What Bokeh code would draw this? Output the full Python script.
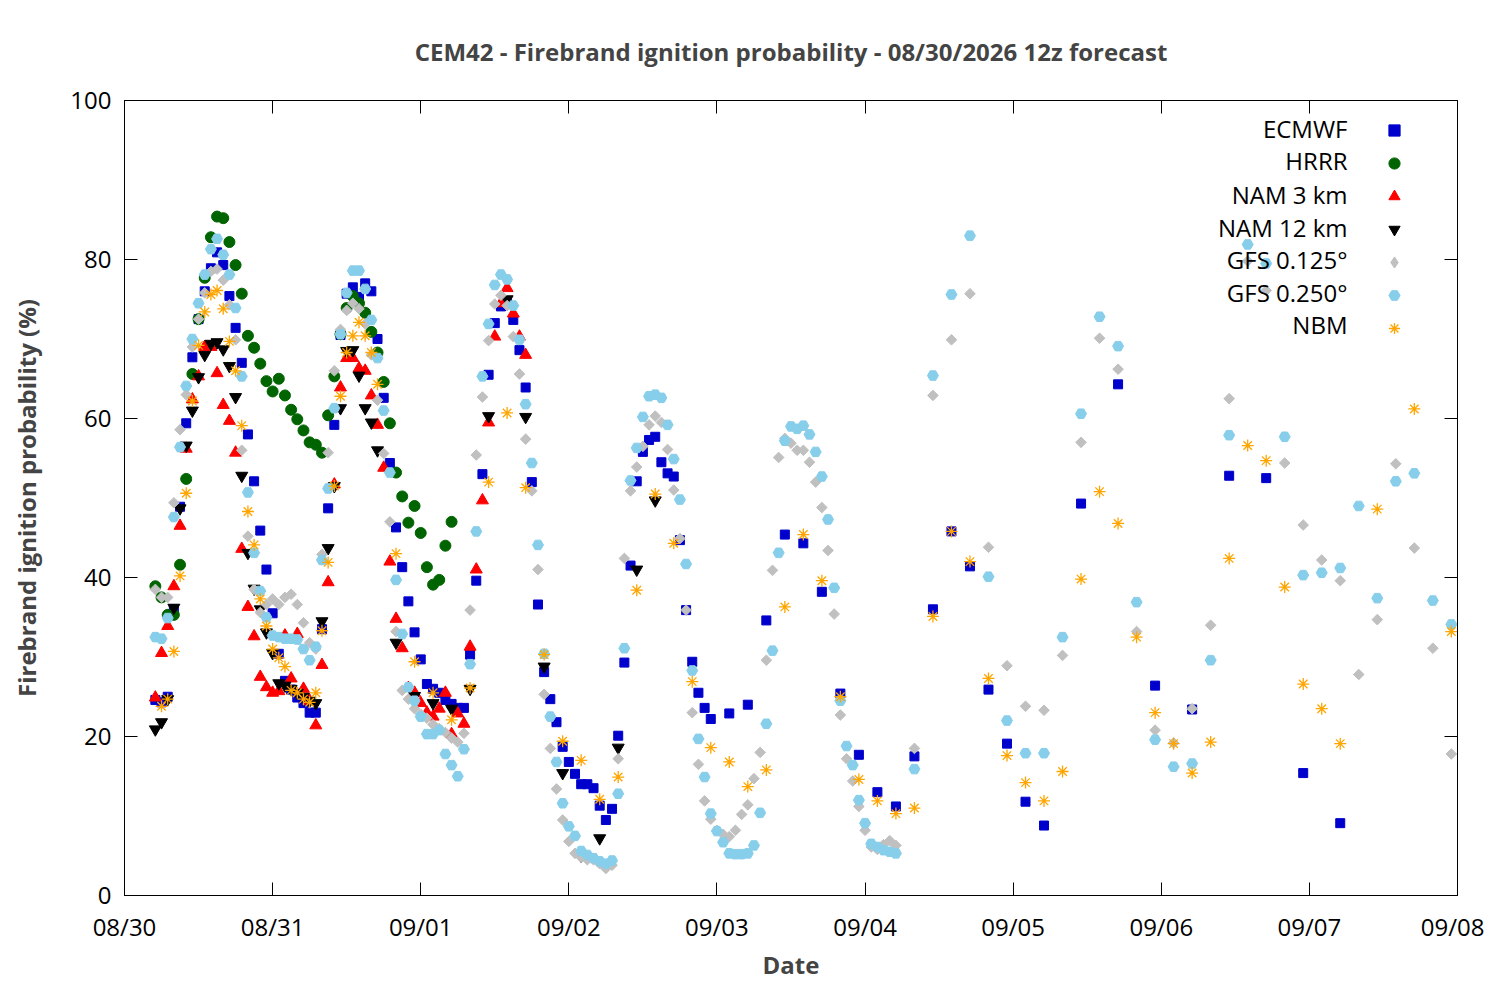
import math
from datetime import datetime, timezone
from bokeh.plotting import figure
from bokeh.models import (ColumnDataSource, Range1d, FixedTicker, DaysTicker,
                          DatetimeTickFormatter, LinearAxis, DatetimeAxis,
                          Legend, LegendItem, Label)
from bokeh.embed import file_html
from bokeh.resources import INLINE

# ---------------- data (hours after 08/30 00:00, probability %) ----------------
TITLE = "CEM42 - Firebrand ignition probability - 08/30/2026 12z forecast"
X_LABEL = "Date"
Y_LABEL = "Firebrand ignition probability (%)"
Y_TICKS = [0, 20, 40, 60, 80, 100]

ecmwf_hours = list(range(5, 96)) + list(range(98, 150, 3)) + list(range(155, 198, 6))
ecmwf_vals = [24.6, 24.3, 25.0, 36.0, 48.9, 59.4, 67.7, 72.5, 76.0, 78.9, 80.9, 79.3, 75.4, 71.4, 67.0,
              58.0, 52.1, 45.9, 41.0, 35.5, 30.4, 27.0, 25.9, 24.9, 24.2, 23.0, 23.0, 33.5, 48.7, 59.2,
              70.5, 75.7, 76.5, 75.3, 77.0, 76.0, 70.0, 62.6, 54.4, 46.3, 41.3, 37.0, 33.1, 29.7, 26.6,
              26.0, 25.5, 24.6, 24.1, 23.6, 23.6, 30.3, 39.6, 53.0, 65.5, 72.0, 74.1, 74.4, 72.4, 68.6,
              63.9, 52.0, 36.6, 28.1, 24.7, 21.8, 18.7, 16.8, 15.3, 14.0, 14.0, 13.5, 11.3, 9.5, 10.9,
              20.1, 29.3, 41.5, 52.1, 55.8, 57.3, 57.7, 54.5, 53.1, 52.7, 44.7, 35.9, 29.4, 25.5, 23.6,
              22.2,
              22.9, 24.0, 34.6, 45.4, 44.3, 38.2, 25.4, 17.7, 13.0, 11.2, 17.5, 36.0, 45.8, 41.4, 25.9,
              19.1, 11.8, 8.8,
              49.3, 64.3, 26.4, 23.4, 52.8, 52.5, 15.4, 9.1]

hrrr_hours = list(range(5, 54))
hrrr_vals = [38.9, 37.5, 35.3, 35.3, 41.6, 52.4, 65.6, 72.5, 77.7, 82.8, 85.4, 85.2, 82.2, 79.3, 75.7,
             70.4, 68.9, 66.9, 64.7, 63.4, 65.0, 62.9, 61.1, 59.9, 58.5, 57.0, 56.7, 55.7, 60.4, 65.3,
             70.6, 73.9, 75.4, 74.5, 73.3, 70.9, 68.3, 64.6, 59.4, 53.2, 50.2, 46.9, 49.0, 45.6, 41.3,
             39.1, 39.7, 44.0, 47.0]

nam3_hours = list(range(5, 66))
nam3_vals = [24.9, 30.5, 33.9, 38.9, 46.5, 56.2, 62.4, 65.3, 69.0, 69.0, 65.7, 61.7, 59.7, 55.7, 43.6,
             36.3, 32.6, 27.5, 26.2, 25.5, 25.7, 32.7, 27.3, 32.9, 26.0, 24.5, 21.4, 29.0, 39.4, 51.7,
             63.9, 67.6, 67.6, 66.3, 66.0, 62.9, 59.2, 53.8, 42.0, 34.8, 31.1, 26.1, 25.5, 24.2, 23.0,
             22.5, 23.5, 25.5, 20.3, 22.9, 21.6, 31.3, 41.0, 49.7, 59.5, 70.3, 74.5, 76.4, 73.2, 70.3,
             68.0]

nam12_hours = list(range(5, 42)) + list(range(44, 87, 3))
nam12_vals = [20.9, 21.8, 24.7, 36.2, 48.7, 56.6, 61.0, 65.2, 68.0, 69.4, 69.6, 68.7, 66.6, 62.7, 52.8,
              43.1, 38.6, 36.0, 33.1, 30.5, 26.7, 26.4, 26.0, 25.5, 25.0, 24.5, 24.2, 34.5, 43.7, 51.5,
              61.3, 68.5, 68.6, 65.4, 61.3, 59.5, 56.0,
              31.8, 25.1, 24.2, 23.5, 26.0, 60.3, 75.0, 60.2, 28.8, 15.4, 5.0, 7.2, 18.6, 41.0, 49.7]

gfs125_hours = list(range(5, 126)) + list(range(128, 216, 3))
gfs125_vals = [38.5, 37.5, 37.5, 49.4, 58.6, 63.0, 69.0, 72.5, 75.8, 78.5, 78.8, 77.4, 74.3, 69.9, 56.0,
               45.2, 38.5, 35.6, 36.6, 37.3, 36.6, 37.5, 37.9, 36.6, 34.3, 31.8, 31.0, 42.9, 55.7, 66.0,
               71.2, 73.6, 74.5, 73.8, 71.9, 68.0, 62.3, 55.6, 47.0, 33.2, 25.8, 24.7, 23.5, 22.8, 22.3,
               21.5, 21.0, 20.5, 19.8, 19.3, 20.4, 35.9, 55.4, 62.7, 69.8, 74.4, 75.5, 74.2, 70.3, 65.6,
               57.4, 50.9, 41.0, 25.3, 18.5, 13.4, 9.5, 6.8, 5.3, 4.8, 4.5, 4.5, 4.0, 3.4, 3.8,
               17.2, 42.4, 50.9, 53.9, 56.5, 59.2, 60.3, 59.5, 56.1, 51.0, 44.9, 35.9, 23.0, 16.5, 11.9,
               9.6, 8.2, 7.7, 7.4, 8.2, 10.2, 11.4, 14.7, 18.0, 29.6, 40.9, 55.1, 57.5, 56.9, 56.0,
               56.0, 54.5, 52.0, 48.8, 43.4, 35.4, 22.7, 17.2, 14.4, 11.2, 8.2, 6.1, 5.8, 6.4, 6.9,
               6.3,
               18.5, 62.9, 69.9, 75.7, 43.8, 28.9, 23.8, 23.3, 30.2, 57.0, 70.1, 66.2, 33.2, 20.8, 19.2,
               23.5, 34.0, 62.5, 79.8, 76.1, 54.4, 46.6, 42.2, 39.6, 27.8, 34.7, 54.3, 43.7, 31.1, 17.8]

gfs250_hours = list(range(5, 126)) + list(range(128, 216, 3))
gfs250_vals = [32.5, 32.3, 34.9, 47.6, 56.4, 64.1, 70.0, 74.5, 78.1, 81.3, 82.6, 80.6, 78.1, 73.9, 65.3,
               50.7, 43.1, 38.3, 35.0, 32.7, 32.5, 32.3, 32.3, 32.2, 31.0, 29.6, 31.3, 42.2, 51.2, 61.3,
               70.6, 75.8, 78.6, 78.6, 76.3, 72.4, 67.6, 61.0, 53.2, 39.7, 32.9, 26.2, 24.5, 22.5, 20.3,
               20.3, 20.8, 17.8, 16.4, 15.0, 18.4, 29.1, 45.8, 65.3, 71.9, 76.8, 78.1, 77.5, 74.2, 69.9,
               61.8, 54.4, 44.1, 30.4, 22.5, 16.8, 11.6, 8.7, 7.5, 5.6, 5.1, 4.7, 4.3, 4.0, 4.4,
               12.8, 31.1, 52.2, 56.3, 60.2, 62.8, 63.0, 62.6, 59.2, 54.9, 49.8, 41.7, 28.3, 19.7, 14.9,
               10.3, 8.1, 6.7, 5.3, 5.2, 5.2, 5.3, 6.3, 10.4, 21.6, 30.8, 43.1, 57.2, 59.0, 58.7,
               59.1, 58.0, 55.8, 52.7, 47.3, 38.7, 24.5, 18.8, 16.4, 12.0, 9.1, 6.5, 6.1, 5.7, 5.5,
               5.3,
               15.9, 65.4, 75.6, 83.0, 40.1, 22.0, 17.9, 17.9, 32.5, 60.6, 72.8, 69.1, 36.9, 19.6, 16.2,
               16.6, 29.6, 57.9, 81.9, 79.5, 57.7, 40.3, 40.6, 41.2, 49.0, 37.4, 52.1, 53.1, 37.1, 34.1]

nbm_hours = list(range(6, 42)) + list(range(44, 198, 3)) + [203, 209, 215]
nbm_vals = [23.8, 24.7, 30.7, 40.2, 50.6, 62.2, 69.2, 73.4, 75.6, 76.1, 73.8, 69.7, 66.0, 59.1, 48.3,
            44.1, 37.3, 33.9, 31.0, 29.9, 28.8, 25.8, 25.5, 24.7, 24.3, 25.5, 33.3, 41.9, 51.5, 62.8,
            68.3, 70.4, 72.1, 70.4, 68.3, 64.3,
            43.0, 29.4, 25.5, 22.1, 26.1, 52.0, 60.7, 51.3, 30.3, 19.4, 17.0, 12.1, 14.9, 38.4, 50.5,
            44.3, 26.9, 18.6, 16.8, 13.7, 15.8, 36.3, 45.4, 39.6, 25.0, 14.6, 11.9, 10.3, 11.0, 35.1,
            45.8, 42.0, 27.3, 17.6, 14.2, 11.9, 15.6, 39.8, 50.8, 46.8, 32.5, 23.0, 19.1, 15.4, 19.3,
            42.4, 56.6, 54.7, 38.8, 26.6, 23.5, 19.1,
            48.6, 61.2, 33.2]

for hh, vv in [(ecmwf_hours, ecmwf_vals), (hrrr_hours, hrrr_vals), (nam3_hours, nam3_vals),
               (nam12_hours, nam12_vals), (gfs125_hours, gfs125_vals), (gfs250_hours, gfs250_vals),
               (nbm_hours, nbm_vals)]:
    assert len(hh) == len(vv), (len(hh), len(vv))

# ---------------- helpers ----------------
BASE = datetime(2026, 8, 30, tzinfo=timezone.utc).timestamp() * 1000.0
HOUR = 3600000.0


def times(hours):
    return [BASE + h * HOUR for h in hours]


FONT = "Open Sans"
FS = "24px"

p = figure(width=1484, height=984, output_backend="svg", toolbar_location=None,
           x_axis_type="datetime",
           x_range=Range1d(BASE, BASE + 216 * HOUR), y_range=Range1d(0, 100),
           min_border_left=124, min_border_right=27, min_border_top=99, min_border_bottom=89)
p.background_fill_color = "white"
p.border_fill_color = "white"
p.outline_line_color = "black"
p.outline_line_width = 1
p.xgrid.visible = False
p.ygrid.visible = False

p.title.text = TITLE
p.title.align = "center"
p.title.text_font = FONT
p.title.text_font_size = FS
p.title.text_font_style = "bold"
p.title.standoff = 65

xa = p.xaxis[0]
xa.ticker = DaysTicker(days=list(range(1, 32)))
xa.formatter = DatetimeTickFormatter(days="%m/%d", months="%m/%d", hours="%m/%d")
ya = p.yaxis[0]
ya.ticker = FixedTicker(ticks=Y_TICKS)

for ax in (xa, ya):
    ax.major_label_text_font = FONT
    ax.major_label_text_font_size = FS
    ax.major_label_text_color = "black"
    ax.axis_label_text_font = FONT
    ax.axis_label_text_font_size = FS
    ax.axis_label_text_font_style = "bold"
    ax.major_tick_in = 13
    ax.major_tick_out = 0
    ax.minor_tick_line_color = None
    ax.axis_line_color = "black"
    ax.major_tick_line_color = "black"

xa.axis_label = X_LABEL
xa.major_label_standoff = 14
xa.axis_label_standoff = 2
ya.axis_label = Y_LABEL
ya.major_label_standoff = 13
ya.axis_label_standoff = 24

# mirrored ticks on the right and top (labels not drawn)
ra = LinearAxis(ticker=FixedTicker(ticks=Y_TICKS), major_label_text_font_size="2px",
                major_label_text_color=None,
                major_tick_in=13, major_tick_out=0, minor_tick_line_color=None,
                major_label_standoff=0)
p.add_layout(ra, "right")
ta = DatetimeAxis(ticker=DaysTicker(days=list(range(1, 32))), major_label_text_font_size="2px",
                  major_label_text_color=None,
                  major_tick_in=13, major_tick_out=0, minor_tick_line_color=None,
                  major_label_standoff=0)
p.add_layout(ta, "above")

series = [
    ("ECMWF", ecmwf_hours, ecmwf_vals, dict(marker="square", size=9, color="#0000cd")),
    ("HRRR", hrrr_hours, hrrr_vals, dict(marker="circle", size=11, color="#006400")),
    ("NAM 3 km", nam3_hours, nam3_vals, dict(marker="triangle", size=12, color="#ff0000")),
    ("NAM 12 km", nam12_hours, nam12_vals, dict(marker="inverted_triangle", size=12, color="#000000")),
    ("GFS 0.125°", gfs125_hours, gfs125_vals, dict(marker="square", size=7.5, color="#c0c0c0", angle=math.pi / 4)),
    ("GFS 0.250°", gfs250_hours, gfs250_vals, dict(marker="hex", size=11, color="#87ceeb")),
    ("NBM", nbm_hours, nbm_vals, dict(marker="asterisk", size=12, color="#ffa500", line_width=1.3)),
]

items = []
for name, hh, vv, style in series:
    src = ColumnDataSource(dict(t=times(hh), v=vv))
    r = p.scatter("t", "v", source=src, **style)
    legend_r = r
    if name == "GFS 0.125°":
        # legend-only symbol (a diamond); its single point is NaN so nothing is plotted
        legend_r = p.scatter(x=[float("nan")], y=[float("nan")], marker="diamond",
                             color="#c0c0c0")
    items.append((name, legend_r))

legend = Legend(items=[LegendItem(label=" ", renderers=[r]) for _, r in items],
                location="top_right", margin=16, padding=0,
                glyph_width=28, glyph_height=28, label_width=33, label_height=28,
                label_standoff=0, spacing=5, border_line_color=None,
                background_fill_alpha=0, label_text_font_size="2px",
                label_text_color=None)
p.add_layout(legend)

# legend texts (right-aligned, left of the symbols)
row_y = [128, 160, 194, 227, 259, 292, 324]
for (name, _), yy in zip(items, row_y):
    p.add_layout(Label(x=1347 - 124, y=895 - yy, x_units="screen", y_units="screen",
                       text=name, text_align="right", text_baseline="middle",
                       text_font=FONT, text_font_size=FS, text_color="black"))

open("out.html", "w").write(file_html(p, INLINE))
